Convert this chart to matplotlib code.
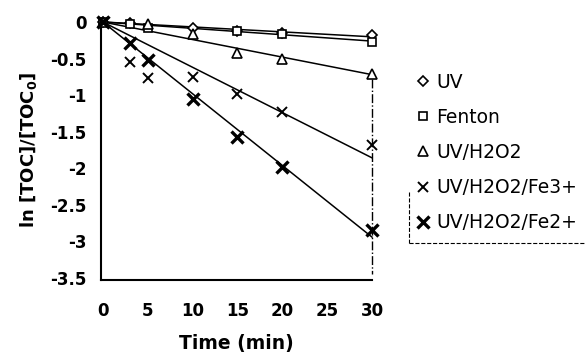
import numpy as np
import matplotlib
matplotlib.use("Agg")
import matplotlib.pyplot as plt
from matplotlib.lines import Line2D

# ─── Data ────────────────────────────────────────────────────────────────────
series_names = ["UV", "Fenton", "UV/H2O2", "UV/H2O2/Fe3+", "UV/H2O2/Fe2+"]

t_uv      = [0, 3, 10, 15, 20, 30]
y_uv      = [0, -0.02, -0.08, -0.12, -0.15, -0.18]
t_fenton  = [0, 3, 5, 15, 20, 30]
y_fenton  = [0, -0.03, -0.08, -0.12, -0.16, -0.27]
t_h2o2    = [0, 5, 10, 15, 20, 30]
y_h2o2    = [0, -0.03, -0.17, -0.43, -0.50, -0.71]
t_fe3     = [0, 3, 5, 10, 15, 20, 30]
y_fe3     = [0, -0.55, -0.77, -0.75, -0.98, -1.23, -1.68]
t_fe2     = [0, 3, 5, 10, 15, 20, 30]
y_fe2     = [0, -0.29, -0.52, -1.05, -1.57, -1.98, -2.85]

x_ticks = [0, 5, 10, 15, 20, 25, 30]
y_ticks = [0, -0.5, -1, -1.5, -2, -2.5, -3, -3.5]
y_tick_labels = ["0", "-0.5", "-1", "-1.5", "-2", "-2.5", "-3", "-3.5"]

# ─── Figure ───────────────────────────────────────────────────────────────────
W, H = 586, 361
plt.rcParams["font.family"] = ["DejaVu Sans"]
fig = plt.figure(figsize=(W / 100, H / 100), dpi=100)
ax = fig.add_axes([101 / W, 1 - 280 / H, 271 / W, 260 / H])

styles = [
    (t_uv, y_uv, "D", 5, 1.2),
    (t_fenton, y_fenton, "s", 5.5, 1.2),
    (t_h2o2, y_h2o2, "^", 6.5, 1.2),
    (t_fe3, y_fe3, "x", 7, 1.4),
    (t_fe2, y_fe2, "x", 9, 2.4),
]

handles = []
for (t, y, m, ms, mew), name in zip(styles, series_names):
    t = np.asarray(t, float)
    y = np.asarray(y, float)
    # trend line forced through the origin
    k = np.sum(t * y) / np.sum(t * t)
    tt = np.array([0, t.max()])
    ax.plot(tt, k * tt, color="black", lw=1.1, zorder=2, clip_on=False)
    h, = ax.plot(t, y, linestyle="none", marker=m, ms=ms, mew=mew,
                 mfc="white" if m != "x" else "black", mec="black",
                 label=name, zorder=3, clip_on=False)
    handles.append(h)

# dash-dot frame edge at the right
ax.plot([30, 30], [-0.78, -3.45], color="black", lw=1.0, ls="-.", zorder=1,
        clip_on=False)

ax.set_xlim(-0.2, 30.0)
ax.set_ylim(-3.527, 0.027)
ax.set_xticks(x_ticks)
ax.set_yticks(y_ticks)
ax.set_yticklabels(y_tick_labels)
ax.tick_params(length=0, labelsize=12)
ax.tick_params(axis="x", pad=16)
ax.tick_params(axis="y", pad=10.5)
for lbl in ax.get_xticklabels() + ax.get_yticklabels():
    lbl.set_fontweight("bold")

for side in ("top", "right"):
    ax.spines[side].set_visible(False)
for side in ("left", "bottom"):
    ax.spines[side].set_linewidth(1.5)

ax.set_xlabel("Time (min)", fontsize=13.5, fontweight="bold", labelpad=10)
ax.set_ylabel("ln [TOC]/[TOC$_\\mathbf{0}$]", fontsize=13, fontweight="bold",
              labelpad=8)

ax.legend(handles=handles, loc="upper left", bbox_to_anchor=(1.14, 0.826),
          frameon=False, fontsize=13.5, handlelength=0.6, handletextpad=0.39,
          labelspacing=0.86, borderaxespad=0, borderpad=0.4)

# partial dashed legend frame (left and bottom edges, as in the scan)
fig.add_artist(Line2D([409 / W, 409 / W], [1 - 192 / H, 1 - 243 / H],
                      transform=fig.transFigure, color="black", lw=0.8, ls="--"))
fig.add_artist(Line2D([409 / W, 584 / W], [1 - 243 / H, 1 - 243 / H],
                      transform=fig.transFigure, color="black", lw=0.8, ls="--"))

fig.savefig("out.png", dpi=100)
